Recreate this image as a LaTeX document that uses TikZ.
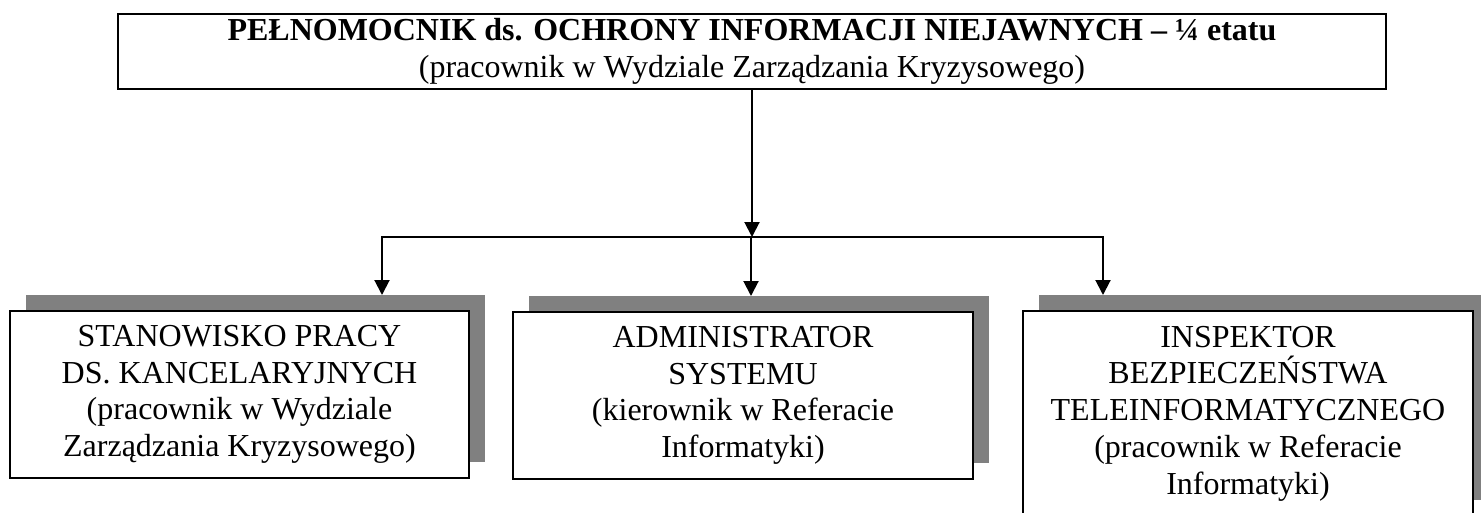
\documentclass[tikz,border=0pt]{standalone}
\usepackage{fontspec}
\setmainfont{Liberation Serif}
\usetikzlibrary{shadows, arrows.meta}

\begin{document}
\begin{tikzpicture}
    [x = 1pt, y = -1pt, outer sep = 0pt,
    unit/.style={rectangle, draw=black, fill=white, line width = 2pt,
      align=center, inner sep = 0pt,
      font=\fontsize{32}{36.7}\selectfont,
      execute at begin node={\rule{0pt}{#1}}},
    unit/.default=26pt,
    subunit/.style={unit=30pt, minimum width = 460pt, minimum height = 167pt,
      drop shadow={shadow xshift=16pt, shadow yshift=16pt, fill=gray,
        opacity=1}},
    link/.style={-{Triangle[width=15pt, length=15pt]}, line width = 2pt}]
    \useasboundingbox (0,0) rectangle (1481,512);
    \node (pelnomocnik) [unit, minimum width = 1268pt, minimum height = 75pt]
      at (752,51.5)
      {\textbf{PEŁNOMOCNIK ds. OCHRONY INFORMACJI NIEJAWNYCH – ¼ etatu}\\
        (pracownik w Wydziale Zarządzania Kryzysowego)};
    \node (kancelaria) [subunit, minimum width = 459pt] at (239.5,394.5)
      {STANOWISKO PRACY\\ DS. KANCELARYJNYCH\\ (pracownik w Wydziale\\
        Zarządzania Kryzysowego)};
    \node (administrator) [subunit] at (743,395.5)
      {ADMINISTRATOR\\ SYSTEMU\\ (kierownik w Referacie\\ Informatyki)};
    \node (inspektor) [subunit, minimum width = 450pt, minimum height = 205pt]
      at (1248,413.5)
      {INSPEKTOR\\ BEZPIECZEŃSTWA\\ TELEINFORMATYCZNEGO\\
        (pracownik w Referacie\\ Informatyki)};
    % rozdzielenie
    \coordinate (bus) at (pelnomocnik.south |- 0,237);
    \coordinate (kancelaria_in) at ([xshift=142.5pt, yshift=16pt]kancelaria.north);
    \coordinate (administrator_in) at ([xshift=8pt, yshift=16pt]administrator.north);
    \coordinate (inspektor_in) at ([xshift=-145pt, yshift=16pt]inspektor.north);
    \draw [link] (pelnomocnik.south) -- (bus);
    \draw [link] (bus) -| (kancelaria_in);
    \draw [link] (bus) -| (inspektor_in);
    \draw [link] (bus -| administrator_in) -- (administrator_in);
  \end{tikzpicture}
\end{document}
